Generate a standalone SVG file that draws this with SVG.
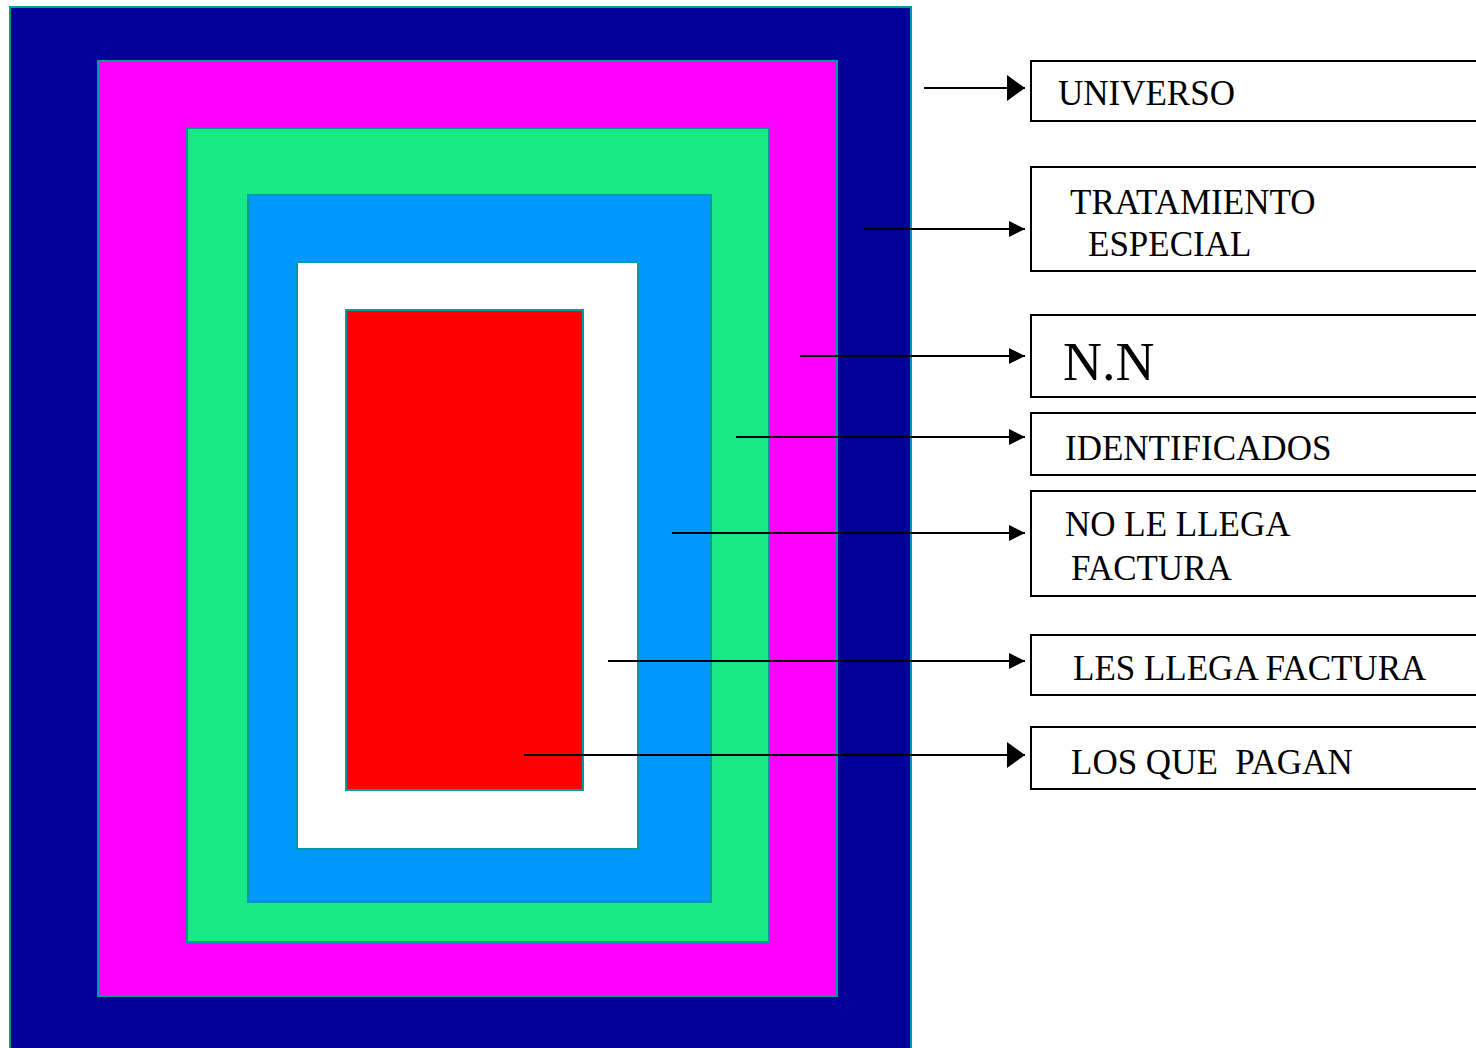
<svg xmlns="http://www.w3.org/2000/svg" width="1476" height="1048" viewBox="0 0 1476 1048">
<style>
.layer{stroke:#009B9B;stroke-width:2}
.box{fill:#ffffff;stroke:#000000;stroke-width:2}
.lbl{font-family:"Liberation Serif","Times New Roman",serif;font-size:35px;fill:#000000;white-space:pre}
.conn{stroke:#000000;stroke-width:2;fill:none}
</style>
<defs>
<marker id="big" markerUnits="userSpaceOnUse" markerWidth="20" markerHeight="28" refX="18" refY="13" orient="auto">
<path d="M0,0 L18,13 L0,26 Z" fill="#000000"/>
</marker>
<marker id="small" markerUnits="userSpaceOnUse" markerWidth="18" markerHeight="18" refX="16" refY="8" orient="auto">
<path d="M0,0 L16,8 L0,16 Z" fill="#000000"/>
</marker>
</defs>
<rect width="1476" height="1048" fill="#ffffff"/>
<g id="layers">
<rect id="universo-area" class="layer" x="10" y="7" width="901" height="1050" fill="#000099"/>
<rect id="tratamiento-area" class="layer" x="98" y="61" width="739" height="935" fill="#FF00FF"/>
<rect id="nn-area" class="layer" x="187" y="128" width="582" height="814" fill="#19E985"/>
<rect id="identificados-area" class="layer" x="248" y="195" width="463" height="707" fill="#0099FF"/>
<rect id="nollega-area" class="layer" x="297" y="262" width="341" height="587" fill="#FFFFFF"/>
<rect id="llega-area" class="layer" x="346" y="310" width="237" height="480" fill="#FF0000"/>
</g>
<g id="connectors">
<line class="conn" x1="924" y1="88" x2="1025" y2="88" marker-end="url(#big)"/>
<line class="conn" x1="864" y1="229" x2="1025" y2="229" marker-end="url(#small)"/>
<line class="conn" x1="800" y1="356" x2="1025" y2="356" marker-end="url(#small)"/>
<line class="conn" x1="736" y1="437" x2="1025" y2="437" marker-end="url(#small)"/>
<line class="conn" x1="672" y1="533" x2="1025" y2="533" marker-end="url(#small)"/>
<line class="conn" x1="608" y1="661" x2="1025" y2="661" marker-end="url(#small)"/>
<line class="conn" x1="524" y1="755" x2="1025" y2="755" marker-end="url(#big)"/>
</g>
<g id="node-universo">
<rect class="box" x="1031" y="61" width="460" height="60"/>
<text class="lbl" x="1058" y="105">UNIVERSO</text>
</g>
<g id="node-tratamiento">
<rect class="box" x="1031" y="167" width="460" height="104"/>
<text class="lbl" x="1070" y="214">TRATAMIENTO</text>
<text class="lbl" x="1088" y="256">ESPECIAL</text>
</g>
<g id="node-nn">
<rect class="box" x="1031" y="315" width="460" height="82"/>
<text class="lbl" x="1063" y="380" style="font-size:54px">N.N</text>
</g>
<g id="node-identificados">
<rect class="box" x="1031" y="413" width="460" height="62"/>
<text class="lbl" x="1065" y="460">IDENTIFICADOS</text>
</g>
<g id="node-nollega">
<rect class="box" x="1031" y="491" width="460" height="105"/>
<text class="lbl" x="1065" y="536">NO LE LLEGA</text>
<text class="lbl" x="1071" y="580">FACTURA</text>
</g>
<g id="node-llega">
<rect class="box" x="1031" y="635" width="460" height="60"/>
<text class="lbl" x="1073" y="680">LES LLEGA FACTURA</text>
</g>
<g id="node-pagan">
<rect class="box" x="1031" y="727" width="460" height="62"/>
<text class="lbl" x="1071" y="774" xml:space="preserve">LOS QUE  PAGAN</text>
</g>
</svg>
